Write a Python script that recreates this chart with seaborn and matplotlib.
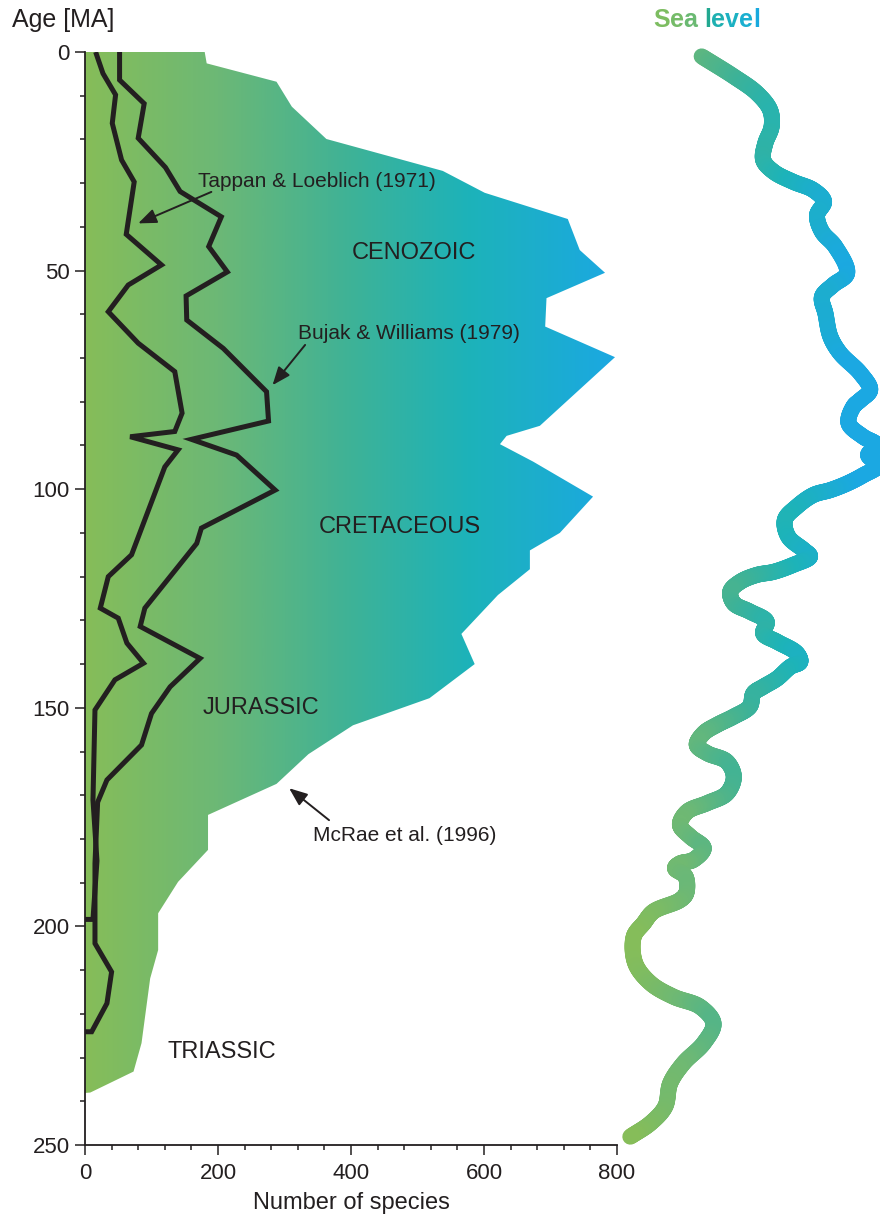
import numpy as np
import matplotlib
matplotlib.use("Agg")
import matplotlib.pyplot as plt
import seaborn as sns
from matplotlib.colors import LinearSegmentedColormap, Normalize
from matplotlib.collections import LineCollection
from matplotlib.patches import PathPatch
from matplotlib.ticker import MultipleLocator

# ---------------------------------------------------------------------------
# Dinoflagellate species diversity through time
# ---------------------------------------------------------------------------
# McRae et al. (1996): outline of the diversity envelope (age in MA, species)
mcrae_age = [0, 2.6, 6.8, 12.5, 19.9, 27.2, 32.2, 38.2, 45.3, 50.5, 56.3, 62.8,
             69.8, 85.5, 87.8, 89.7, 93.7, 101.7, 110, 114, 118.3, 124.2, 133.1,
             140, 147.8, 154, 160.6, 167.4, 174.5, 182.5, 189.8, 197, 205.4,
             211.9, 226.7, 233.2, 238, 238.1]
mcrae_count = [180, 183, 288, 311, 363, 538, 601, 726, 744, 782, 694, 692,
               797, 684, 634, 624, 674, 764, 714, 669, 669, 621, 566,
               586, 518, 403, 336, 288, 185, 185, 140, 110, 110,
               98, 85, 73, 8, 0]

# Tappan & Loeblich (1971)
tappan_age = [0, 4.9, 9.8, 16.3, 24.7, 29.7, 41.7, 48.7, 53.3, 59.4, 66.6, 73.1,
              82.6, 86.8, 88.0, 91.0, 94.9, 115.0, 120.0, 127.2, 129.5, 135.2,
              139.8, 143.6, 150.5, 171.1, 185.0, 198.4, 198.4]
tappan_count = [16, 27, 46, 41, 55, 74, 62, 115, 65, 35, 80, 135,
                146, 135, 68, 140, 120, 70, 35, 23, 50, 63,
                88, 45, 15, 12, 18, 12, 0]

# Bujak & Williams (1979)
bujak_age = [0, 6.4, 11.8, 19.7, 26.4, 31.9, 37.7, 44.5, 50.3, 55.8, 61.3, 67.8,
             77.7, 84.4, 88.6, 92.2, 100.2, 108.9, 112.4, 127.2, 131.4, 138.7,
             145.2, 151.3, 158.5, 166.5, 171.6, 185.6, 203.9, 210.4, 217.6,
             224.1, 224.1]
bujak_count = [52, 52, 89, 80, 121, 143, 205, 186, 214, 152, 153, 208,
               273, 276, 160, 228, 286, 175, 168, 90, 83, 173,
               128, 100, 85, 33, 19, 15, 15, 40, 33,
               10, 0]

# Relative sea level (m above present)
sea_age = [1, 5.6, 9.4, 13.3, 17.1, 20.9, 24.7, 27.4, 29.7, 31.6, 34.2, 37.3,
           41.1, 44.5, 50.6, 53.3, 56.0, 59.8, 65.1, 68.9, 73.5, 77.3, 79.6,
           81.1, 84.9, 88.0, 89.9, 92.2, 94.5, 96.8, 98.7, 100.2, 101.3, 104.0,
           107.0, 110.9, 113.9, 115.4, 117.3, 118.9, 119.6, 121.2, 123.4, 126.1,
           128.0, 130.3, 133.0, 134.9, 137.5, 139.5, 140.6, 143.3, 145.2, 146.7,
           149.7, 152.0, 153.9, 155.8, 158.5, 160.4, 162.3, 165.8, 169.6, 171.8,
           173.8, 176.8, 179.5, 182.1, 184.8, 185.6, 186.7, 188.6, 192.4, 194.0,
           196.6, 199.3, 202.3, 208.4, 213.0, 216.1, 218.4, 222.2, 226.7, 231.3,
           235.9, 241.2, 245.0, 248.1]
sea_level_m = [2, 48, 81, 100, 102, 93, 90, 105, 133, 162, 177, 167,
               174, 193, 210, 190, 174, 179, 186, 200, 229, 243, 229,
               219, 212, 233, 252, 240, 255, 233, 210, 186, 162, 138,
               121, 126, 148, 157, 133, 105, 81, 57, 43, 48,
               71, 95, 90, 110, 138, 143, 129, 110, 90, 76,
               71, 48, 24, 5, -5, 10, 38, 48, 38, 10,
               -19, -29, -14, 5, -10, -29, -36, -21, -20, -29,
               -67, -81, -95, -93, -71, -38, 0, 19, 5, -24,
               -43, -50, -71, -100]

# Text annotations
period_names = ["CENOZOIC", "CRETACEOUS", "JURASSIC", "TRIASSIC"]
period_x = [495, 474, 265, 206]
period_age = [46, 108.6, 150.1, 228.7]

source_names = ["Tappan & Loeblich (1971)", "Bujak & Williams (1979)",
                "McRae et al. (1996)"]
source_text_x = [349, 487, 480]
source_text_age = [29.7, 64.3, 179.3]
arrow_tail_x = [190, 331, 367]
arrow_tail_age = [32.0, 67.0, 175.7]
arrow_head_x = [80, 282, 307]
arrow_head_age = [39.2, 76.2, 168.4]

x_ticks = [0, 200, 400, 600, 800]
y_ticks = [0, 50, 100, 150, 200, 250]

INK = "#231f20"

sns.set_theme(style="ticks")
plt.rcParams["font.family"] = ["Liberation Sans", "DejaVu Sans"]
plt.rcParams["text.color"] = INK
plt.rcParams["axes.labelcolor"] = INK
plt.rcParams["xtick.color"] = INK
plt.rcParams["ytick.color"] = INK

W, H = 880, 1219
fig = plt.figure(figsize=(W / 100, H / 100), dpi=100)
ax = fig.add_axes([85 / W, 1 - 1145 / H, 532 / W, 1093 / H])

diversity_cmap = LinearSegmentedColormap.from_list(
    "diversity",
    [(0.0, "#86bd59"), (0.25, "#6cb876"), (0.5, "#3eb297"),
     (0.72, "#1db3b9"), (1.0, "#1ba8e2")])

# Gradient-filled diversity envelope
env = ax.fill_betweenx(mcrae_age, 0, mcrae_count, facecolor="none",
                       edgecolor="none", zorder=1)
clip = PathPatch(env.get_paths()[0], transform=ax.transData,
                 facecolor="none", edgecolor="none")
ax.add_patch(clip)
grad = np.linspace(0, 1, 600).reshape(1, -1)
im = ax.imshow(grad, extent=[0, 800, 250, 0], aspect="auto",
               cmap=diversity_cmap, interpolation="bilinear", zorder=1)
im.set_clip_path(clip)

# Diversity curves
for ages, counts in [(tappan_age, tappan_count), (bujak_age, bujak_count)]:
    sns.lineplot(x=counts, y=ages, sort=False, estimator=None, ax=ax,
                 color=INK, linewidth=3.6, solid_joinstyle="miter",
                 solid_capstyle="butt", zorder=3)

ax.set_xlim(0, 800)
ax.set_ylim(250, 0)
ax.set_xticks(x_ticks)
ax.set_yticks(y_ticks)
ax.xaxis.set_minor_locator(MultipleLocator(40))
ax.yaxis.set_minor_locator(MultipleLocator(10))
ax.tick_params(axis="both", which="major", length=7, width=1.1,
               labelsize=16, direction="out")
ax.tick_params(axis="both", which="minor", length=3.8, width=1.1,
               direction="out")
ax.tick_params(axis="x", which="major", pad=6)
ax.tick_params(axis="y", which="major", pad=4)
for s in ["top", "right"]:
    ax.spines[s].set_visible(False)
for s in ["left", "bottom"]:
    ax.spines[s].set_linewidth(1.3)
    ax.spines[s].set_color(INK)
ax.set_xlabel("Number of species", fontsize=17, labelpad=6)
ax.set_ylabel("")
ax.grid(False)
ax.set_facecolor("none")

fig.text(12 / W, 1 - 20 / H, "Age [MA]", fontsize=18, ha="left", va="center")

# Period labels
for name, px, pa in zip(period_names, period_x, period_age):
    ax.text(px, pa, name, fontsize=17, ha="center", va="center", zorder=4)

# Source labels and arrows
for name, tx, ta, ax0, ay0, ax1, ay1 in zip(source_names, source_text_x,
                                            source_text_age, arrow_tail_x,
                                            arrow_tail_age, arrow_head_x,
                                            arrow_head_age):
    ax.text(tx, ta, name, fontsize=15, ha="center", va="center", zorder=4)
    ax.annotate("", xy=(ax1, ay1), xytext=(ax0, ay0),
                arrowprops=dict(arrowstyle="-|>,head_length=0.55,head_width=0.22",
                                color=INK, lw=1.4, mutation_scale=20,
                                shrinkA=0, shrinkB=0), zorder=5)

# Sea-level curve in its own panel to the right
ax2 = fig.add_axes([617 / W, 1 - 1145 / H, 263 / W, 1093 / H])
ax2.set_xlim(-119, 257)
ax2.set_ylim(250, 0)
ax2.axis("off")


def catmull_rom(pts, n=20):
    """Centripetal Catmull-Rom curve through the given points."""
    P = np.vstack([2 * pts[0] - pts[1], pts, 2 * pts[-1] - pts[-2]])
    out = []
    for i in range(1, len(P) - 2):
        p0, p1, p2, p3 = P[i - 1], P[i], P[i + 1], P[i + 2]
        t0 = 0.0
        t1 = t0 + max(np.linalg.norm(p1 - p0), 1e-6) ** 0.5
        t2 = t1 + max(np.linalg.norm(p2 - p1), 1e-6) ** 0.5
        t3 = t2 + max(np.linalg.norm(p3 - p2), 1e-6) ** 0.5
        t = np.linspace(t1, t2, n, endpoint=False)[:, None]
        a1 = (t1 - t) / (t1 - t0) * p0 + (t - t0) / (t1 - t0) * p1
        a2 = (t2 - t) / (t2 - t1) * p1 + (t - t1) / (t2 - t1) * p2
        a3 = (t3 - t) / (t3 - t2) * p2 + (t - t2) / (t3 - t2) * p3
        b1 = (t2 - t) / (t2 - t0) * a1 + (t - t0) / (t2 - t0) * a2
        b2 = (t3 - t) / (t3 - t1) * a2 + (t - t1) / (t3 - t1) * a3
        out.append((t2 - t) / (t2 - t1) * b1 + (t - t1) / (t2 - t1) * b2)
    out.append(pts[-1][None])
    return np.vstack(out)


disp = ax2.transData.transform(np.column_stack([sea_level_m, sea_age]))
curve = ax2.transData.inverted().transform(catmull_rom(disp))
segs = np.stack([curve[:-1], curve[1:]], axis=1)
mid_x = segs[:, :, 0].mean(axis=1)
sea_norm = Normalize(vmin=-100, vmax=215)
lc = LineCollection(segs, colors=diversity_cmap(sea_norm(mid_x)),
                    linewidths=11.5, capstyle="round", joinstyle="round",
                    clip_on=False)
ax2.add_collection(lc)

# "Sea level" heading with per-letter colour ramp
title_chars = list("Sea level")
title_colors = ["#7dbd61", "#75bb68", "#6ab972", "#6ab972", "#22a890",
                "#1fb0b1", "#1cb1c2", "#1aafd0", "#18a9de"]
renderer = fig.canvas.get_renderer()
x_cursor = 653
for ch, col in zip(title_chars, title_colors):
    t = fig.text(x_cursor / W, 1 - 20 / H, ch, fontsize=18, fontweight="bold",
                 color=col, ha="left", va="center")
    if ch == " ":
        x_cursor += 18 * 100 / 72 * 0.278
    else:
        x_cursor += t.get_window_extent(renderer).width

fig.savefig("out.png", dpi=100)
